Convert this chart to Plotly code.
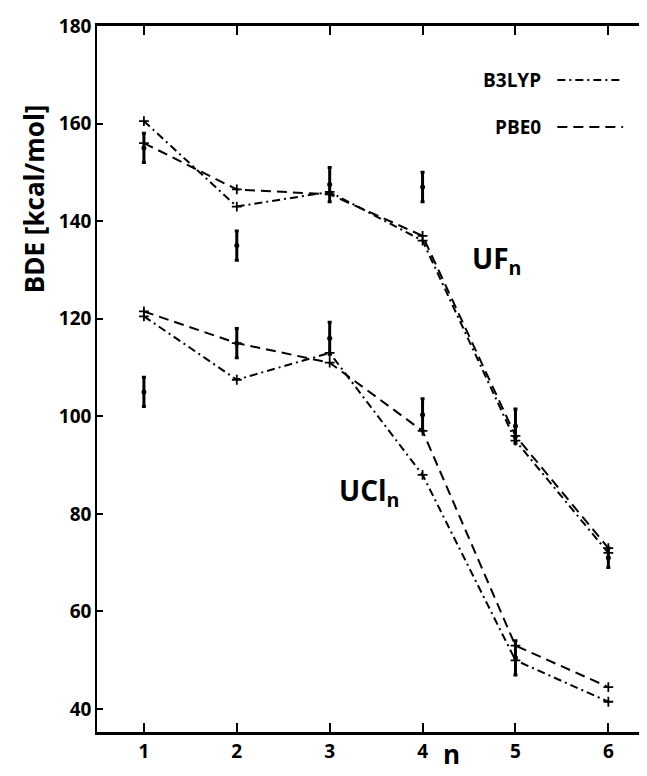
import plotly.graph_objects as go

# ---- data ----
n = [1, 2, 3, 4, 5, 6]
uf_b3lyp = [160.5, 143.0, 146.0, 136.0, 95.0, 72.0]
uf_pbe0 = [156.0, 146.5, 145.5, 137.0, 96.0, 73.0]
uf_exp = [155.0, 135.0, 147.5, 147.0, 98.0, 71.0]
uf_err = [3.0, 3.0, 3.5, 3.0, 3.5, 2.0]

ucl_b3lyp = [120.5, 107.5, 113.0, 88.0, 50.0, 41.5]
ucl_pbe0 = [121.5, 115.0, 111.0, 97.0, 53.0, 44.5]
n_exp_ucl = [1, 2, 3, 4, 5]
ucl_exp = [105.0, 115.0, 116.0, 100.3, 50.5]
ucl_err = [3.0, 3.0, 3.3, 3.3, 3.5]

x_ticks = [1, 2, 3, 4, 5, 6]
y_ticks = [40, 60, 80, 100, 120, 140, 160, 180]

FONT = "Open Sans"
B3LYP_DASH = "8px,4px,2px,4px"
PBE0_DASH = "10px,6px"

fig = go.Figure()

def calc_trace(y, dash):
    return go.Scatter(
        x=n, y=y, mode="lines+markers",
        line=dict(color="black", width=2, dash=dash),
        marker=dict(symbol="cross-thin", size=7, line=dict(color="black", width=1.8)),
        showlegend=False, hoverinfo="skip",
    )

def exp_trace(x, y, err):
    return go.Scatter(
        x=x, y=y, mode="markers",
        marker=dict(symbol="circle", size=5, color="black"),
        error_y=dict(type="data", array=err, visible=True, color="black",
                     thickness=3, width=2),
        showlegend=False, hoverinfo="skip",
    )

fig.add_trace(calc_trace(uf_b3lyp, B3LYP_DASH))
fig.add_trace(calc_trace(uf_pbe0, PBE0_DASH))
fig.add_trace(calc_trace(ucl_b3lyp, B3LYP_DASH))
fig.add_trace(calc_trace(ucl_pbe0, PBE0_DASH))
fig.add_trace(exp_trace(n, uf_exp, uf_err))
fig.add_trace(exp_trace(n_exp_ucl, ucl_exp, ucl_err))

L, R, T, B = 89, 1, 18, 52
W, H = 647, 776
pw = W - L - R
ph = H - T - B

def px(xp):
    return (xp - L) / pw

def py(yp):
    return (H - B - yp) / ph

fig.update_layout(
    width=W, height=H,
    margin=dict(l=L, r=R, t=T, b=B),
    paper_bgcolor="white", plot_bgcolor="white",
    font=dict(family=FONT, size=18, color="black", weight="bold"),
    xaxis=dict(range=[0.495, 6.47], tickvals=x_ticks, ticks="inside", ticklen=9,
               tickwidth=1.5, tickcolor="black", showline=True, linecolor="black",
               linewidth=2.5, mirror="ticks", showgrid=False, zeroline=False,
               tickfont=dict(size=19, family=FONT, weight="bold")),
    yaxis=dict(range=[35.3, 180], tickvals=y_ticks, ticks="inside", ticklen=6,
               tickwidth=1.5, tickcolor="black", showline=True, linecolor="black",
               linewidth=1.5, mirror="ticks", showgrid=False, zeroline=False,
               tickfont=dict(size=19, family=FONT, weight="bold")),
)

annotations = [
    dict(text="BDE [kcal/mol]", xref="paper", yref="paper", x=px(26), y=py(191),
         xanchor="center", yanchor="middle",
         textangle=-90, showarrow=False, font=dict(size=26, family=FONT, weight="bold")),
    dict(text="n", xref="paper", yref="paper", x=px(445), y=py(746),
         showarrow=False, font=dict(size=26, family=FONT, weight="bold"),
         xanchor="center", yanchor="middle"),
    dict(text="UF<sub>n</sub>", xref="x", yref="y", x=4.8, y=132.0,
         xanchor="center", yanchor="middle",
         showarrow=False, font=dict(size=28, family=FONT, weight="bold")),
    dict(text="UCl<sub>n</sub>", xref="x", yref="y", x=3.42, y=84.5,
         xanchor="center", yanchor="middle",
         showarrow=False, font=dict(size=28, family=FONT, weight="bold")),
    dict(text="B3LYP", xref="paper", yref="paper", x=px(537), y=py(72),
         xanchor="right", yanchor="middle", showarrow=False,
         font=dict(size=19, family=FONT, weight="bold")),
    dict(text="PBE0", xref="paper", yref="paper", x=px(537), y=py(119),
         xanchor="right", yanchor="middle", showarrow=False,
         font=dict(size=19, family=FONT, weight="bold")),
]
fig.update_layout(annotations=annotations)

shapes = [
    dict(type="line", xref="paper", yref="paper", x0=px(551), x1=px(617),
         y0=py(72), y1=py(72), line=dict(color="black", width=2, dash=B3LYP_DASH)),
    dict(type="line", xref="paper", yref="paper", x0=px(551), x1=px(617),
         y0=py(119), y1=py(119), line=dict(color="black", width=2, dash=PBE0_DASH)),
]
fig.update_layout(shapes=shapes)

fig.write_html("out.html")
